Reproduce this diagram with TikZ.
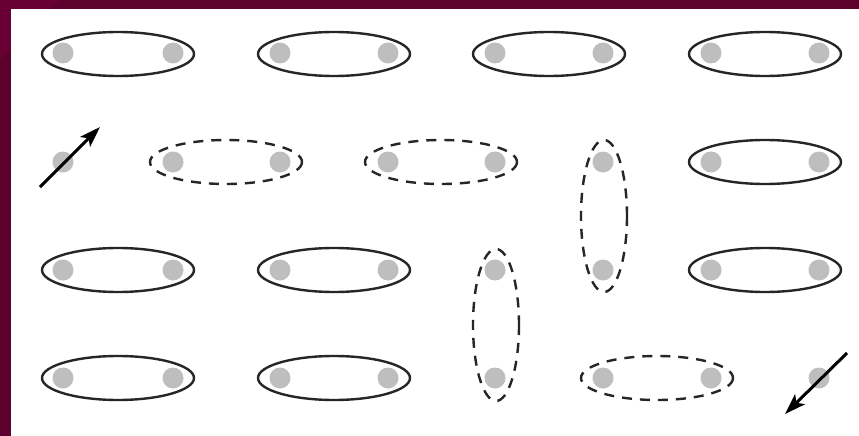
\documentclass[tikz,border=0pt]{standalone}
\usetikzlibrary{arrows.meta}
\definecolor{frame}{RGB}{92,0,44}
\definecolor{framelight}{RGB}{104,0,52}
\definecolor{dotgray}{RGB}{190,190,190}
\tikzset{
  dot/.style={circle,fill=dotgray,draw=none,minimum size=21pt,inner sep=0pt},
  bond/.style={draw=black!85,line width=2.4pt},
  rvb/.style={draw=black!85,line width=2.4pt,dash pattern=on 10pt off 8pt},
  spin/.style={draw=black,line width=3pt,-{Stealth[length=21pt,width=14pt,inset=5pt]}}
}
\begin{document}
\begin{tikzpicture}[x=1pt,y=-1pt]
\useasboundingbox (0,0) rectangle (859,436);
% frame
\fill[frame] (0,0) rectangle (859,9);
\fill[frame] (0,0) rectangle (11,436);
\fill[framelight] (0,0) -- (60,0) -- (0,60) -- cycle;
\fill[white] (11,9) rectangle (859,436);
% dots
\foreach \i/\x in {1/63,2/173,3/280,4/388,5/495,6/603,7/711,8/819}{
  \foreach \j/\y in {1/53,2/162,3/270,4/378}{
    \node[dot] (d\i\j) at (\x,\y) {};
  }
}
% solid bonds (horizontal)
\foreach \x in {118,334,549,765}{\draw[bond] (\x,54) ellipse [x radius=76,y radius=22];}
\draw[bond] (765,162) ellipse [x radius=76,y radius=22];
\foreach \x in {118,334}{\draw[bond] (\x,270) ellipse [x radius=76,y radius=22];}
\draw[bond] (765,270) ellipse [x radius=76,y radius=22];
\foreach \x in {118,334}{\draw[bond] (\x,378) ellipse [x radius=76,y radius=22];}
% dashed bonds
\draw[rvb] (226,162) ellipse [x radius=76,y radius=22];
\draw[rvb] (441,162) ellipse [x radius=76,y radius=22];
\draw[rvb] (657,378) ellipse [x radius=76,y radius=22];
\draw[rvb] (604,216) ellipse [x radius=23,y radius=76];
\draw[rvb] (496,325) ellipse [x radius=23,y radius=76];
% free spins
\coordinate (a1s) at (40,187);
\coordinate (a1e) at (100,127);
\coordinate (a2s) at (847,353);
\coordinate (a2e) at (785,414);
\draw[spin] (a1s) -- (a1e);
\draw[spin] (a2s) -- (a2e);
\end{tikzpicture}
\end{document}
